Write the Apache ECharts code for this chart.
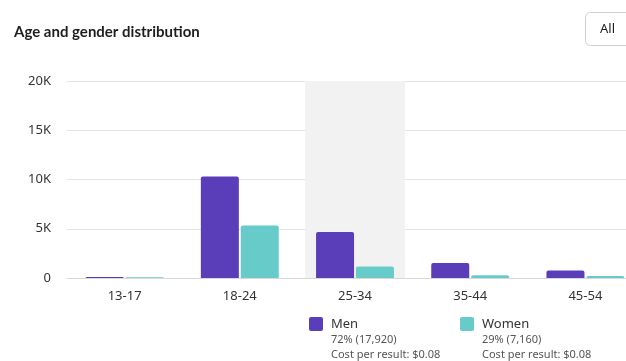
<!DOCTYPE html>
<html><head><meta charset="utf-8">
<script src="https://cdn.jsdelivr.net/npm/echarts@6/dist/echarts.min.js"></script>
<style>html,body{margin:0;padding:0;overflow:hidden;background:#fff;width:626px;height:361px}#c{width:720px;height:361px}</style>
</head><body><div id="c"></div>
<script>
const categories = ['13-17','18-24','25-34','35-44','45-54'];
const menValues = [100, 10300, 4660, 1520, 770];
const womenValues = [80, 5330, 1180, 270, 200];
const yTicks = [0, 5000, 10000, 15000, 20000];
const highlightCategory = '25-34';
const seriesNames = ['Men','Women'];
const legendShares = ['72% (17,920)','29% (7,160)'];
const legendCosts = ['Cost per result: $0.08','Cost per result: $0.08'];
const titleText = 'Age and gender distribution';
const buttonText = 'All';

const colors = ['#5a3db9','#67cbc9'];
const font = '"Noto Sans", "Open Sans", sans-serif';
const chart = echarts.init(document.getElementById('c'));
const highlightData = categories.map(c => c === highlightCategory ? yTicks[yTicks.length-1] : null);

const legendGraphics = [];
const lx = [309, 460];
seriesNames.forEach((n,i) => {
  legendGraphics.push({type:'rect', shape:{x:lx[i], y:317, width:14, height:14, r:2}, style:{fill:colors[i]}});
  legendGraphics.push({type:'text', x:lx[i]+22, y:324, style:{text:n, font:'13px '+font, fill:'#333', textVerticalAlign:'middle'}});
  legendGraphics.push({type:'text', x:lx[i]+22, y:340, style:{text:legendShares[i], font:'11px '+font, fill:'#555', textVerticalAlign:'middle'}});
  legendGraphics.push({type:'text', x:lx[i]+22, y:355, style:{text:legendCosts[i], font:'11px '+font, fill:'#555', textVerticalAlign:'middle'}});
});

chart.setOption({
  animation:false,
  title:{text:titleText, left:9, top:20, textStyle:{fontSize:15, fontWeight:'bold', color:'#1c1e21', fontFamily:'Lato, sans-serif'}},
  grid:{left:67, top:81, width:576, height:197, containLabel:false},
  xAxis:[
    {type:'category', data:categories, axisTick:{show:false}, axisLine:{lineStyle:{color:'#d8d8d8'}},
     axisLabel:{color:'#333', fontSize:13, fontFamily:font, margin:12}},
    {type:'category', data:categories, show:false}
  ],
  yAxis:{type:'value', min:0, max:20000, interval:5000,
    axisLabel:{color:'#333', fontSize:13, fontFamily:font, margin:16, formatter:v => v===0?'0':(v/1000)+'K'},
    splitLine:{lineStyle:{color:'#e3e3e3'}}, axisLine:{show:false}, axisTick:{show:false}},
  series:[
    {type:'bar', xAxisIndex:1, data:highlightData, barWidth:100, itemStyle:{color:'#f2f2f2'}, z:0, silent:true},
    {type:'bar', name:seriesNames[0], data:menValues, barWidth:38, barGap:'5%', itemStyle:{color:colors[0], borderRadius:[2,2,0,0]}, z:3},
    {type:'bar', name:seriesNames[1], data:womenValues, barWidth:38, barGap:'5%', itemStyle:{color:colors[1], borderRadius:[2,2,0,0]}, z:3}
  ],
  graphic:[
    {type:'rect', shape:{x:585.5, y:12.5, width:60, height:33, r:5}, style:{fill:'#fff', stroke:'#ccd0d5', lineWidth:1}},
    {type:'text', x:600, y:29, style:{text:buttonText, font:'13px '+font, fill:'#1c1e21', textVerticalAlign:'middle'}},
    ...legendGraphics
  ]
});
</script></body></html>
